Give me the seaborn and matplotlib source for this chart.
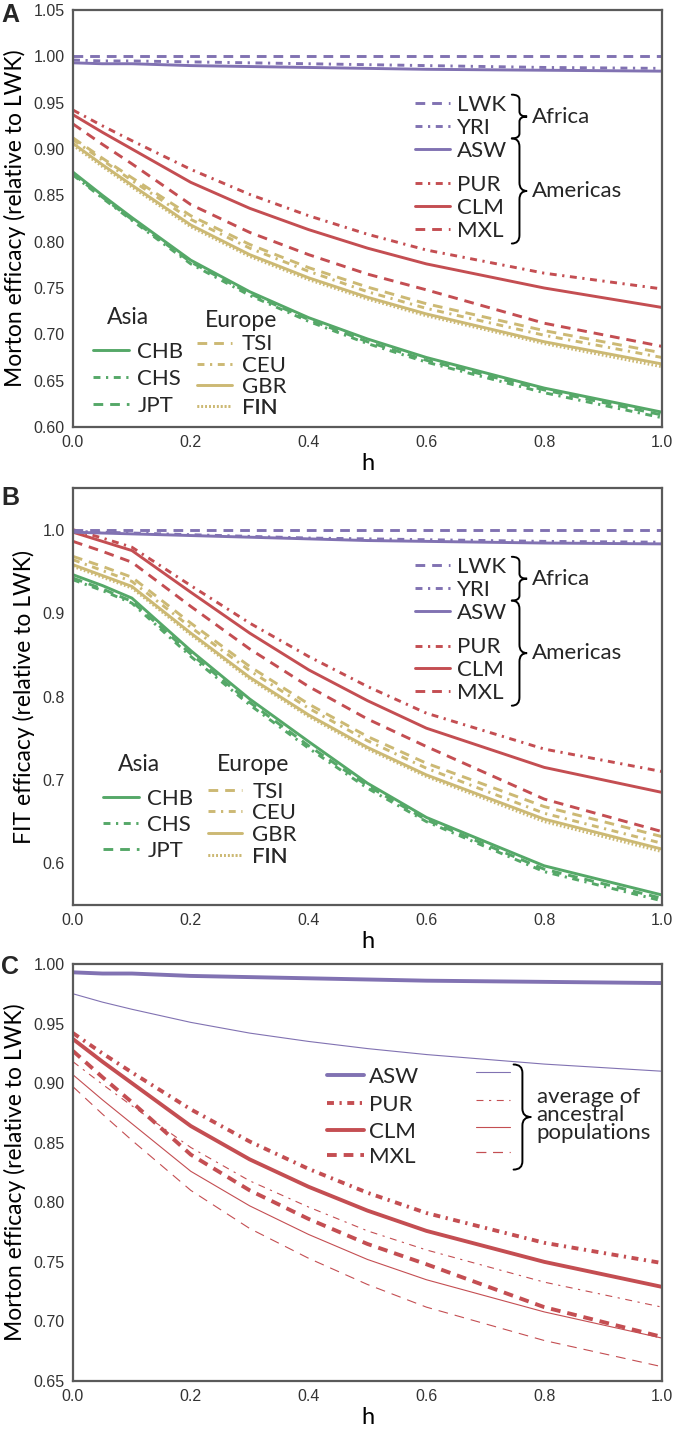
import numpy as np
import pandas as pd
import seaborn as sns
import matplotlib.pyplot as plt
from matplotlib.path import Path
from matplotlib.patches import PathPatch

# ---------------- data ----------------
h = [0.0, 0.05, 0.1, 0.2, 0.3, 0.4, 0.5, 0.6, 0.8, 1.0]

# Panel A: Morton efficacy (relative to LWK)
mA_LWK = [1.000, 1.000, 1.000, 1.000, 1.000, 1.000, 1.000, 1.000, 1.000, 1.000]
mA_YRI = [0.996, 0.995, 0.995, 0.994, 0.993, 0.992, 0.991, 0.990, 0.988, 0.987]
mA_ASW = [0.993, 0.992, 0.992, 0.990, 0.989, 0.988, 0.987, 0.986, 0.985, 0.984]
mA_PUR = [0.942, 0.925, 0.909, 0.878, 0.851, 0.828, 0.808, 0.791, 0.766, 0.749]
mA_CLM = [0.937, 0.918, 0.900, 0.864, 0.836, 0.813, 0.793, 0.776, 0.750, 0.729]
mA_MXL = [0.927, 0.905, 0.884, 0.840, 0.810, 0.786, 0.765, 0.748, 0.712, 0.687]
mA_TSI = [0.912, 0.890, 0.869, 0.828, 0.797, 0.772, 0.751, 0.733, 0.704, 0.680]
mA_CEU = [0.910, 0.888, 0.866, 0.824, 0.793, 0.768, 0.746, 0.728, 0.699, 0.675]
mA_GBR = [0.906, 0.883, 0.861, 0.818, 0.786, 0.761, 0.740, 0.722, 0.692, 0.668]
mA_FIN = [0.904, 0.881, 0.859, 0.816, 0.784, 0.759, 0.738, 0.720, 0.690, 0.665]
mA_CHB = [0.875, 0.850, 0.826, 0.780, 0.746, 0.718, 0.695, 0.675, 0.642, 0.616]
mA_CHS = [0.872, 0.847, 0.823, 0.776, 0.742, 0.714, 0.690, 0.670, 0.637, 0.610]
mA_JPT = [0.873, 0.848, 0.824, 0.778, 0.744, 0.716, 0.692, 0.672, 0.640, 0.613]

# Panel B: FIT efficacy (relative to LWK)
fB_LWK = [1.000, 1.000, 1.000, 1.000, 1.000, 1.000, 1.000, 1.000, 1.000, 1.000]
fB_YRI = [0.998, 0.997, 0.996, 0.994, 0.992, 0.990, 0.989, 0.988, 0.986, 0.985]
fB_ASW = [0.997, 0.996, 0.995, 0.993, 0.991, 0.989, 0.987, 0.986, 0.984, 0.983]
fB_PUR = [1.000, 0.990, 0.979, 0.933, 0.888, 0.848, 0.812, 0.780, 0.737, 0.710]
fB_CLM = [0.997, 0.986, 0.975, 0.925, 0.876, 0.832, 0.795, 0.762, 0.715, 0.685]
fB_MXL = [0.986, 0.974, 0.961, 0.908, 0.857, 0.812, 0.773, 0.740, 0.677, 0.638]
fB_TSI = [0.968, 0.956, 0.943, 0.888, 0.836, 0.791, 0.752, 0.720, 0.668, 0.632]
fB_CEU = [0.964, 0.951, 0.938, 0.883, 0.831, 0.786, 0.747, 0.714, 0.660, 0.624]
fB_GBR = [0.958, 0.945, 0.932, 0.876, 0.823, 0.778, 0.739, 0.706, 0.653, 0.617]
fB_FIN = [0.956, 0.943, 0.930, 0.874, 0.821, 0.776, 0.737, 0.704, 0.650, 0.614]
fB_CHB = [0.946, 0.933, 0.918, 0.855, 0.797, 0.746, 0.696, 0.655, 0.597, 0.562]
fB_CHS = [0.940, 0.927, 0.912, 0.848, 0.790, 0.738, 0.690, 0.650, 0.590, 0.555]
fB_JPT = [0.942, 0.929, 0.914, 0.851, 0.793, 0.741, 0.693, 0.652, 0.593, 0.558]

# Panel C: admixed populations vs average of ancestral populations (Morton)
avg_ASW = [0.975, 0.968, 0.962, 0.951, 0.942, 0.935, 0.929, 0.924, 0.916, 0.910]
avg_PUR = [0.918, 0.899, 0.881, 0.846, 0.818, 0.796, 0.776, 0.760, 0.733, 0.712]
avg_CLM = [0.907, 0.886, 0.866, 0.826, 0.797, 0.773, 0.752, 0.735, 0.708, 0.686]
avg_MXL = [0.897, 0.874, 0.852, 0.810, 0.778, 0.753, 0.731, 0.712, 0.684, 0.662]

x_ticks = [0.0, 0.2, 0.4, 0.6, 0.8, 1.0]
yticks_A = [0.60, 0.65, 0.70, 0.75, 0.80, 0.85, 0.90, 0.95, 1.00, 1.05]
yticks_B = [0.6, 0.7, 0.8, 0.9, 1.0]
yticks_C = [0.65, 0.70, 0.75, 0.80, 0.85, 0.90, 0.95, 1.00]

# ---------------- style ----------------
sns.set_theme(style="white")
plt.rcParams["lines.scale_dashes"] = False
plt.rcParams["font.family"] = ["Liberation Sans", "DejaVu Sans"]

PURPLE = "#8172B2"
RED = "#C44E52"
GREEN = "#55A868"
YELLOW = "#CCB974"
SPINE = "#5a5a5a"

SOLID = "-"
DASH = (0, (7, 5))
DASHDOT = (0, (5, 4, 1.6, 4))
DOT = (0, (1.2, 1.6))
LABEL_FONT = "Lato"

colors = {"LWK": PURPLE, "YRI": PURPLE, "ASW": PURPLE,
          "PUR": RED, "CLM": RED, "MXL": RED,
          "TSI": YELLOW, "CEU": YELLOW, "GBR": YELLOW, "FIN": YELLOW,
          "CHB": GREEN, "CHS": GREEN, "JPT": GREEN}
styles = {"LWK": DASH, "YRI": DASHDOT, "ASW": SOLID,
          "PUR": DASHDOT, "CLM": SOLID, "MXL": DASH,
          "TSI": DASH, "CEU": DASHDOT, "GBR": SOLID, "FIN": DOT,
          "CHB": SOLID, "CHS": DASHDOT, "JPT": DASH}

seriesA = {"LWK": mA_LWK, "YRI": mA_YRI, "ASW": mA_ASW, "PUR": mA_PUR, "CLM": mA_CLM,
           "MXL": mA_MXL, "TSI": mA_TSI, "CEU": mA_CEU, "GBR": mA_GBR, "FIN": mA_FIN,
           "CHB": mA_CHB, "CHS": mA_CHS, "JPT": mA_JPT}
seriesB = {"LWK": fB_LWK, "YRI": fB_YRI, "ASW": fB_ASW, "PUR": fB_PUR, "CLM": fB_CLM,
           "MXL": fB_MXL, "TSI": fB_TSI, "CEU": fB_CEU, "GBR": fB_GBR, "FIN": fB_FIN,
           "CHB": fB_CHB, "CHS": fB_CHS, "JPT": fB_JPT}

W, H = 677, 1430
fig = plt.figure(figsize=(W / 100, H / 100), dpi=100)


def add_axes(top_px, bot_px, left_px=73, right_px=662):
    return fig.add_axes([left_px / W, 1 - bot_px / H, (right_px - left_px) / W,
                         (bot_px - top_px) / H])


def style_axes(ax, ylim, yticks, yfmt, ylabel):
    ax.set_xlim(0, 1)
    ax.set_ylim(*ylim)
    ax.set_xticks(x_ticks)
    ax.set_xticklabels([f"{t:.1f}" for t in x_ticks])
    ax.set_yticks(yticks)
    ax.set_yticklabels([yfmt.format(t) for t in yticks])
    ax.tick_params(length=0, labelsize=11.5, labelcolor="#333333", pad=6)
    for s in ax.spines.values():
        s.set_color(SPINE)
        s.set_linewidth(1.6)
    ax.set_xlabel("h", family=LABEL_FONT, fontsize=17, labelpad=2, color="black")
    ax.set_ylabel(ylabel, family=LABEL_FONT, fontsize=16.5, labelpad=5, color="black")
    ax.grid(False)


def draw(ax, name, yvals, color, ls, lw):
    before = len(ax.lines)
    sns.lineplot(x=h, y=yvals, ax=ax, color=color, linestyle=ls, linewidth=lw,
                 legend=False, errorbar=None)
    return ax.lines[before]


def key(ax, line, label, x, y, hl, pad, fs=16):
    lg = ax.legend([line], [label], loc="center left", bbox_to_anchor=(x, y),
                   bbox_transform=ax.transAxes, frameon=False, handlelength=hl,
                   handletextpad=pad, borderpad=0, borderaxespad=0,
                   prop={"family": LABEL_FONT, "size": fs})
    ax.add_artist(lg)


def brace(ax, x, y0, y1, w, q=0.02, lw=1.4):
    ym = (y0 + y1) / 2
    xm = x + w / 2
    verts = [(x, y1), (xm, y1), (xm, y1 - q), (xm, ym + q), (xm, ym), (x + w, ym),
             (xm, ym), (xm, ym - q), (xm, y0 + q), (xm, y0), (x, y0)]
    codes = [Path.MOVETO, Path.CURVE3, Path.CURVE3, Path.LINETO, Path.CURVE3, Path.CURVE3,
             Path.CURVE3, Path.CURVE3, Path.LINETO, Path.CURVE3, Path.CURVE3]
    ax.add_patch(PathPatch(Path(verts, codes), transform=ax.transAxes, fill=False,
                           lw=lw, edgecolor="black", capstyle="round"))


def panel_AB(ax, series, cfg):
    lines = {}
    order = ["CHB", "CHS", "JPT", "TSI", "CEU", "GBR", "FIN", "MXL", "CLM", "PUR", "ASW", "YRI", "LWK"]
    for name in order:
        lines[name] = draw(ax, name, series[name], colors[name], styles[name], 2.1)
    # upper right keys
    xk, ys = cfg["xk"], cfg["ys"]
    for name, y in zip(["LWK", "YRI", "ASW", "PUR", "CLM", "MXL"], ys):
        key(ax, lines[name], name, xk, y, 1.6, 0.3)
    brace(ax, cfg["bx"], ys[1] - 0.025, ys[0] + 0.025, 0.026, q=0.012)
    brace(ax, cfg["bx"], ys[5] - 0.03, ys[2] + 0.03, 0.026, q=0.02)
    ax.text(cfg["bx"] + 0.034, (ys[0] + ys[1]) / 2, "Africa", transform=ax.transAxes,
            family=LABEL_FONT, fontsize=16, va="center", ha="left")
    ax.text(cfg["bx"] + 0.034, (ys[2] + ys[5]) / 2, "Americas", transform=ax.transAxes,
            family=LABEL_FONT, fontsize=16, va="center", ha="left")
    # Asia / Europe keys
    ax.text(cfg["asia_x"], cfg["asia_y"], "Asia", transform=ax.transAxes,
            family=LABEL_FONT, fontsize=16.5, va="center", ha="left")
    for name, y in zip(["CHB", "CHS", "JPT"], cfg["asia_rows"]):
        key(ax, lines[name], name, cfg["asia_kx"], y, 1.6, 0.4)
    ax.text(cfg["eu_x"], cfg["eu_y"], "Europe", transform=ax.transAxes,
            family=LABEL_FONT, fontsize=16.5, va="center", ha="left")
    for name, y in zip(["TSI", "CEU", "GBR", "FIN"], cfg["eu_rows"]):
        key(ax, lines[name], name, cfg["eu_kx"], y, 1.55, 0.45)


# ---------------- Panel A ----------------
axA = add_axes(10, 427)
panel_AB(axA, seriesA, dict(
    xk=0.580, ys=[0.772, 0.717, 0.662, 0.580, 0.525, 0.470], bx=0.745,
    asia_x=0.058, asia_y=0.263, asia_rows=[0.181, 0.116, 0.051], asia_kx=0.034,
    eu_x=0.224, eu_y=0.256, eu_rows=[0.198, 0.147, 0.097, 0.046], eu_kx=0.211))
style_axes(axA, (0.60, 1.05), yticks_A, "{:.2f}", "Morton efficacy (relative to LWK)")

# ---------------- Panel B ----------------
axB = add_axes(488, 905)
panel_AB(axB, seriesB, dict(
    xk=0.580, ys=[0.810, 0.755, 0.700, 0.618, 0.563, 0.508], bx=0.745,
    asia_x=0.076, asia_y=0.336, asia_rows=[0.254, 0.192, 0.130], asia_kx=0.051,
    eu_x=0.244, eu_y=0.336, eu_rows=[0.271, 0.220, 0.168, 0.115], eu_kx=0.229))
style_axes(axB, (0.55, 1.05), yticks_B, "{:.1f}", "FIT efficacy (relative to LWK)")

# ---------------- Panel C ----------------
axC = add_axes(964, 1381)
thin = {}
thick = {}
for name, vals in [("ASW", avg_ASW), ("PUR", avg_PUR), ("CLM", avg_CLM), ("MXL", avg_MXL)]:
    thin[name] = draw(axC, name, vals, colors[name], styles[name], 0.8)
for name in ["MXL", "CLM", "PUR", "ASW"]:
    thick[name] = draw(axC, name, seriesA[name], colors[name], styles[name], 2.8)
rowsC = [0.729, 0.662, 0.597, 0.537]
for name, y in zip(["ASW", "PUR", "CLM", "MXL"], rowsC):
    key(axC, thick[name], name, 0.431, y, 1.65, 0.25)
    key(axC, thin[name], "", 0.684, y + 0.008, 1.55, 0.0)
brace(axC, 0.748, rowsC[3] - 0.03, rowsC[0] + 0.03, 0.03, q=0.02)
axC.text(0.787, 0.638, "average of\nancestral\npopulations", transform=axC.transAxes,
         family=LABEL_FONT, fontsize=16, va="center", ha="left", linespacing=0.9)
style_axes(axC, (0.65, 1.00), yticks_C, "{:.2f}", "Morton efficacy (relative to LWK)")

# panel letters
for letter, ypx in [("A", 15), ("B", 498), ("C", 967)]:
    fig.text(1 / W, 1 - ypx / H, letter, fontsize=18, fontweight="bold",
             va="center", ha="left", family="Liberation Sans")

fig.savefig("out.png", dpi=100)
